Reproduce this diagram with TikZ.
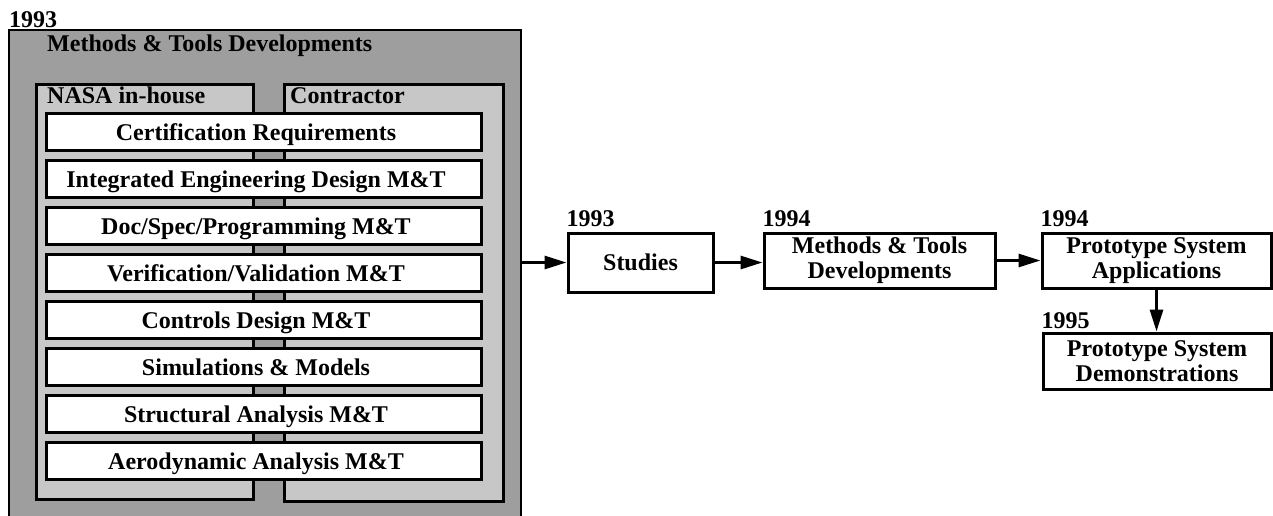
\documentclass[tikz,border=0pt]{standalone}
\usepackage{fontspec}
\setmainfont{Liberation Serif}
\usetikzlibrary{arrows.meta}
\begin{document}
\begin{tikzpicture}[x=1pt,y=-1pt,
  every node/.style={font=\fontsize{24}{25}\selectfont\bfseries},
  panel/.style={draw, line width=3pt, fill=black!22, anchor=north west, inner sep=0pt},
  item/.style={draw, line width=3pt, fill=white, anchor=north west,
    minimum width=435pt, minimum height=37pt, inner sep=0pt,
    text height=16pt, text depth=0pt, execute at end node={\hspace*{16pt}}},
  stage/.style={draw, line width=3pt, fill=white, align=center, inner sep=0pt},
  year/.style={anchor=base west, inner sep=0pt},
  caption/.style={anchor=base west, inner sep=0pt},
  flow/.style={line width=3pt, -{Triangle[length=22pt,width=13pt]}}
]
\useasboundingbox (0,0) rectangle (1273,515);
\clip (0,0) rectangle (1273,515);

% programme block: methods & tools developments
\node[year] (ytop) at (9,27) {1993};
\node[draw, line width=2pt, fill=black!38, anchor=north west,
      minimum width=512pt, minimum height=500pt, inner sep=0pt] (outer) at (8,29) {};
\node[caption] (mtitle) at (47,51) {Methods \& Tools Developments};

% the two performer columns
\node[panel, minimum width=217pt, minimum height=415pt] (nasa) at (35,83) {};
\node[panel, minimum width=219pt, minimum height=417pt] (contr) at (283,83) {};
\node[caption] (nasalbl) at (47,103) {NASA in-house};
\node[caption] (contrlbl) at (290,103) {Contractor};

% work elements spanning both columns
\foreach \t [count=\i from 0] in {
    Certification Requirements,
    Integrated Engineering Design M\&T,
    Doc/Spec/Programming M\&T,
    Verification/Validation M\&T,
    Controls Design M\&T,
    Simulations \& Models,
    Structural Analysis M\&T,
    Aerodynamic Analysis M\&T}
  \node[item] (w\i) at (45,{112+47*\i}) {\t};

% schedule flow
\node[stage, minimum width=145pt, minimum height=59pt] (studies) at (640.5,262.5) {Studies};
\node[stage, minimum width=231pt, minimum height=55pt] (mtd) at (879.5,260.5) {Methods \& Tools\\Developments};
\node[stage, minimum width=229pt, minimum height=55pt] (apps) at (1156.5,260.5) {Prototype System\\Applications};
\node[stage, minimum width=228pt, minimum height=56pt] (demo) at (1157,361) {Prototype System\\Demonstrations};

\node[year] (y1) at ([yshift=5pt]studies.north west) {1993};
\node[year] (y2) at ([yshift=5pt]mtd.north west) {1994};
\node[year] (y3) at ([yshift=5pt]apps.north west) {1994};
\node[year] (y4) at ([yshift=3pt]demo.north west) {1995};

\draw[flow] (outer.east |- studies.west) -- (studies.west);
\draw[flow] (studies.east) -- (studies.east -| mtd.west);
\draw[flow] (mtd.east) -- (apps.west);
\draw[flow] (apps.south) -- (apps.south |- demo.north);
\end{tikzpicture}
\end{document}
